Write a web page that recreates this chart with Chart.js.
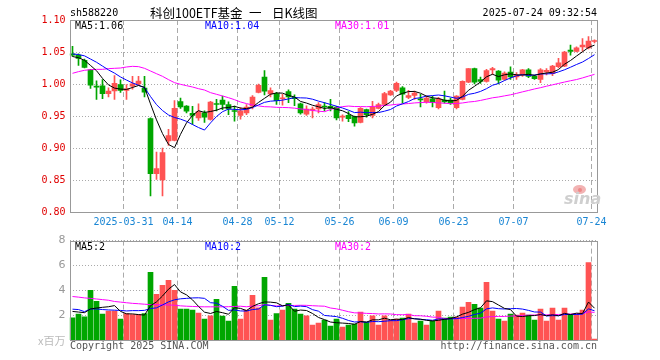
<!DOCTYPE html>
<html><head><meta charset="utf-8">
<script src="https://cdn.jsdelivr.net/npm/chart.js@4.4.1/dist/chart.umd.min.js"></script>
<style>
html,body{margin:0;padding:0;background:#fff;width:660px;height:360px;overflow:hidden;}
body{position:relative;}
.t{position:absolute;white-space:nowrap;font-family:"DejaVu Sans Mono",monospace;font-size:10px;line-height:12px;}
.cjk{font-family:'Noto Sans CJK SC';font-size:12.5px;line-height:16px;color:#000;}
canvas{position:absolute;left:0;}
#c1{top:0;}
#c2{top:230px;}
</style></head><body>
<canvas id="c1" width="660" height="232"></canvas>
<canvas id="c2" width="660" height="130"></canvas>
<div class="t" style="left:70px;top:7px;color:#000">sh588220</div>
<div class="t cjk" style="left:150px;top:5px;">科创100ETF基金</div>
<div class="t cjk" style="left:249px;top:5px;">一</div>
<div class="t cjk" style="left:272px;top:5px;">日K线图</div>
<div class="t" style="right:63px;top:7px;color:#000">2025-07-24 09:32:54</div>
<div class="t" style="left:75px;top:20px;color:#000">MA5:1.06</div>
<div class="t" style="left:205px;top:20px;color:#0000ff">MA10:1.04</div>
<div class="t" style="left:335px;top:20px;color:#ff00ff">MA30:1.01</div>
<div class="t" style="left:75px;top:241px;color:#000">MA5:2</div>
<div class="t" style="left:205px;top:241px;color:#0000ff">MA10:2</div>
<div class="t" style="left:335px;top:241px;color:#ff00ff">MA30:2</div>
<div class="t" style="left:38px;top:333px;color:#bbb;font-family:'Noto Sans CJK SC';font-size:11px;line-height:14px">x百万</div>
<div class="t" style="left:70px;top:340px;color:#555">Copyright 2025 SINA.COM</div>
<div class="t" style="right:63px;top:340px;color:#555">http://finance.sina.com.cn</div>
<div style="position:absolute;left:573px;top:185px;width:13px;height:9px;border-radius:50%;background:#f2b3b3;"></div>
<div style="position:absolute;left:578px;top:188px;width:4px;height:4px;border-radius:50%;background:#e88;"></div>
<div class="t" style="left:564px;top:190px;color:#cfcfcf;font-family:'DejaVu Sans';font-style:italic;font-weight:bold;font-size:16px;line-height:18px;">sina</div>
<script>
// ---- data ----
const dates = [
'2025-03-18','2025-03-19','2025-03-20','2025-03-21','2025-03-24','2025-03-25','2025-03-26','2025-03-27','2025-03-28','2025-03-31',
'2025-04-01','2025-04-02','2025-04-03','2025-04-07','2025-04-08','2025-04-09','2025-04-10','2025-04-11','2025-04-14','2025-04-15',
'2025-04-16','2025-04-17','2025-04-18','2025-04-21','2025-04-22','2025-04-23','2025-04-24','2025-04-25','2025-04-28','2025-04-29',
'2025-04-30','2025-05-06','2025-05-07','2025-05-08','2025-05-09','2025-05-12','2025-05-13','2025-05-14','2025-05-15','2025-05-16',
'2025-05-19','2025-05-20','2025-05-21','2025-05-22','2025-05-23','2025-05-26','2025-05-27','2025-05-28','2025-05-29','2025-05-30',
'2025-06-03','2025-06-04','2025-06-05','2025-06-06','2025-06-09','2025-06-10','2025-06-11','2025-06-12','2025-06-13','2025-06-16',
'2025-06-17','2025-06-18','2025-06-19','2025-06-20','2025-06-23','2025-06-24','2025-06-25','2025-06-26','2025-06-27','2025-06-30',
'2025-07-01','2025-07-02','2025-07-03','2025-07-04','2025-07-07','2025-07-08','2025-07-09','2025-07-10','2025-07-11','2025-07-14',
'2025-07-15','2025-07-16','2025-07-17','2025-07-18','2025-07-21','2025-07-22','2025-07-23','2025-07-24'];

const open = [
1.047,1.045,1.037,1.022,0.996,0.997,0.985,0.989,0.999,0.990,
0.9966,1.0003,0.9935,0.946,0.860,0.850,0.911,0.912,0.9727,0.9654,
0.954,0.947,0.955,0.9445,0.969,0.975,0.968,0.958,0.951,0.955,
0.9654,0.987,1.0107,0.9846,0.985,0.977,0.988,0.979,0.969,0.953,
0.959,0.961,0.965,0.965,0.964,0.948,0.951,0.949,0.940,0.960,
0.951,0.962,0.968,0.983,0.990,0.994,0.979,0.982,0.977,0.972,
0.977,0.963,0.975,0.975,0.963,0.976,1.003,1.024,1.007,1.004,
1.022,1.020,1.007,1.0185,1.011,1.014,1.022,1.012,1.007,1.019,
1.016,1.027,1.028,1.053,1.051,1.058,1.0565,1.0664];
const close = [
1.045,1.040,1.026,0.998,0.995,0.985,0.989,1.001,0.990,0.9925,
1.0003,1.0044,0.9872,0.860,0.868,0.893,0.9195,0.962,0.9643,0.9576,
0.951,0.957,0.948,0.9716,0.968,0.968,0.961,0.957,0.958,0.9638,
0.9794,0.998,0.9888,0.9898,0.974,0.978,0.980,0.977,0.955,0.961,
0.961,0.968,0.964,0.962,0.947,0.950,0.946,0.939,0.962,0.952,
0.964,0.968,0.985,0.989,1.001,0.984,0.982,0.986,0.975,0.978,
0.971,0.977,0.972,0.970,0.981,1.004,1.024,1.003,1.004,1.021,
1.024,1.006,1.017,1.011,1.014,1.022,1.012,1.0085,1.022,1.0215,
1.028,1.033,1.050,1.051,1.0565,1.061,1.067,1.068];
const high = [
1.059,1.047,1.039,1.023,1.005,1.007,0.994,1.013,1.0065,0.999,
1.012,1.012,1.012,0.947,0.8935,0.900,0.929,0.974,0.978,0.9664,
0.965,0.969,0.958,0.973,0.976,0.981,0.972,0.9654,0.963,0.968,
0.982,1.000,1.021,0.994,0.987,0.984,0.991,0.983,0.970,0.966,
0.964,0.971,0.971,0.976,0.965,0.952,0.957,0.950,0.963,0.961,
0.973,0.970,0.987,0.990,1.003,0.996,0.990,0.989,0.984,0.981,
0.981,0.979,0.989,0.978,0.982,1.005,1.024,1.025,1.011,1.023,
1.026,1.021,1.019,1.027,1.018,1.023,1.024,1.014,1.024,1.024,
1.029,1.040,1.051,1.061,1.058,1.071,1.074,1.069];
const low = [
1.043,1.029,1.025,0.993,0.976,0.977,0.980,0.976,0.987,0.976,
0.992,0.998,0.980,0.825,0.851,0.825,0.904,0.911,0.962,0.955,
0.937,0.943,0.940,0.9435,0.958,0.960,0.952,0.942,0.945,0.952,
0.961,0.986,0.983,0.980,0.968,0.967,0.971,0.966,0.953,0.951,
0.947,0.955,0.958,0.958,0.944,0.942,0.941,0.934,0.939,0.948,
0.947,0.961,0.967,0.982,0.988,0.970,0.977,0.976,0.964,0.970,
0.964,0.961,0.970,0.968,0.961,0.975,1.002,1.000,1.001,1.003,
1.015,1.000,1.006,1.007,1.007,1.012,1.010,1.007,1.002,1.014,
1.013,1.025,1.027,1.045,1.050,1.051,1.055,1.064];
// volume, millions
const volume = [
1.79,2.08,1.87,4.0,3.12,2.08,2.32,2.32,1.68,2.13,
2.05,2.05,2.13,5.44,3.68,4.4,4.8,4.0,2.48,2.48,
2.4,2.16,1.68,1.95,3.28,1.92,1.52,4.32,1.68,2.4,
3.6,2.59,5.04,1.6,2.13,2.4,2.96,2.48,2.08,1.95,
1.2,1.36,1.6,1.12,1.68,1.04,1.2,1.28,2.24,1.44,
1.95,1.2,1.95,1.6,1.68,1.76,2.08,1.36,1.52,1.2,
1.52,2.32,1.76,1.84,1.84,2.64,3.04,2.88,2.56,4.64,
2.32,1.68,1.52,2.08,2.0,2.16,2.0,1.6,2.48,1.52,
2.56,1.6,2.56,2.0,2.08,2.4,6.24,0.08];
// moving-average values before a full window exists
const priceMa5Head  = [1.043,1.041,1.037,1.029];
const priceMa10Head = [1.047,1.046,1.044,1.039,1.034,1.028,1.022,1.017,1.011];
const priceMa30Head = [1.0167,1.0193,1.0214,1.0224,1.0229,1.0229,1.024,1.0245,1.025,1.0266,1.0276,1.0271,1.0245,1.0203,1.0161,1.012,1.0068,1.0021,0.9995,0.9974,0.9953,0.9927,0.9906,0.9865,0.9839,0.9813,0.9786,0.9755,0.9719];
const volMa5Head  = [2.3,2.25,2.2,2.5];
const volMa10Head = [2.48,2.45,2.28,2.5,2.5,2.45,2.42,2.4,2.38];
const volMa30Head = [3.5,3.45,3.39,3.35,3.3,3.25,3.2,3.1,3.05,3.0,2.95,2.92,2.88,2.85,2.84,2.83,2.82,2.8,2.75,2.72,2.7,2.68,2.67,2.67,2.67,2.67,2.68,2.7,2.72];
// axis ticks
const tickDates  = ['2025-03-31','2025-04-14','2025-04-28','2025-05-12','2025-05-26','2025-06-09','2025-06-23','2025-07-07','2025-07-24'];
const tickLabels = ['2025-03-31','04-14','04-28','05-12','05-26','06-09','06-23','07-07','07-24'];
const priceTicks = [0.80,0.85,0.90,0.95,1.00,1.05,1.10];
const volTicks   = [2,4,6,8];

// ---- build ----
const UP='#ff5353', DOWN='#00a600', GRID='#aaaaaa', FRAME='#999999';
function movingAvg(vals,n,head){const out=head.slice();for(let i=head.length;i<vals.length;i++){let s=0;for(let k=i-n+1;k<=i;k++)s+=vals[k];out.push(s/n);}return out;}
const colors = close.map((c,i)=> c>=open[i]?UP:DOWN);
const wicks = low.map((l,i)=>[l,high[i]]);
const bodies = open.map((o,i)=>[Math.min(o,close[i]),Math.max(o,close[i])]);
const labelAt = {}; tickDates.forEach((d,k)=>{labelAt[dates.indexOf(d)]=tickLabels[k];});
const gridIdx = new Set(Object.keys(labelAt).map(Number));
const mono = {family:'DejaVu Sans Mono',size:10};

const frame={id:'frame',afterDatasetsDraw(chart){const {ctx,chartArea:a}=chart;ctx.save();ctx.strokeStyle=FRAME;ctx.lineWidth=1;
 const l=Math.round(a.left)+0.5,r=Math.floor(a.right)+0.5,t=Math.round(a.top)+0.5,b=Math.round(a.bottom)+0.5;
 ctx.strokeRect(l,t,r-l,b-t);ctx.restore();}};

function line(data,color){return {type:'line',data,borderColor:color,borderWidth:1,pointRadius:0,tension:0,order:0};}
function xScale(showLabels){return {
  grid:{offset:true,drawTicks:false,lineWidth:1,color:c=>gridIdx.has(c.index)?GRID:'rgba(0,0,0,0)'},
  border:{display:false,dash:[5,3]},
  ticks:{display:showLabels,autoSkip:false,maxRotation:0,minRotation:0,color:'#1a86d4',font:mono,padding:4,labelOffset:-3,
         callback:(v,i)=>labelAt[i]||''},
  afterFit(s){s.height=20;}
};}
const common={responsive:false,animation:false,events:[],plugins:{legend:{display:false},tooltip:{enabled:false}}};

Chart.defaults.font.family='DejaVu Sans Mono';
new Chart(document.getElementById('c1'),{
 type:'bar',
 data:{labels:dates,datasets:[
  line(movingAvg(close,5,priceMa5Head),'#000000'),
  line(movingAvg(close,10,priceMa10Head),'#0000ff'),
  line(movingAvg(close,30,priceMa30Head),'#ff00ff'),
  {data:wicks,backgroundColor:colors,barThickness:1,grouped:false,minBarLength:1,order:2},
  {data:bodies,backgroundColor:colors,barThickness:5,grouped:false,minBarLength:1,order:1}
 ]},
 options:{...common,layout:{padding:{left:0,right:62.5,top:20,bottom:0}},
  scales:{x:xScale(true),
   y:{min:priceTicks[0],max:priceTicks[priceTicks.length-1],
      afterBuildTicks(s){s.ticks=priceTicks.map(v=>({value:v}));},
      grid:{color:GRID,drawTicks:false},border:{display:false,dash:[1,2]},
      ticks:{color:'#e00000',font:mono,padding:4,callback:v=>Number(v).toFixed(2)},
      afterFit(s){s.width=69.5;}}}},
 plugins:[frame]
});
new Chart(document.getElementById('c2'),{
 type:'bar',
 data:{labels:dates,datasets:[
  line(movingAvg(volume,5,volMa5Head),'#000000'),
  line(movingAvg(volume,10,volMa10Head),'#0000ff'),
  line(movingAvg(volume,30,volMa30Head),'#ff00ff'),
  {data:volume,backgroundColor:colors,barThickness:5,order:1}
 ]},
 options:{...common,layout:{padding:{left:0,right:62.5,top:10,bottom:0}},
  scales:{x:xScale(false),
   y:{min:0,max:volTicks[volTicks.length-1],
      afterBuildTicks(s){s.ticks=volTicks.map(v=>({value:v}));},
      grid:{color:GRID,drawTicks:false},border:{display:false,dash:[1,2]},
      ticks:{color:'#999999',font:{family:'DejaVu Sans',size:11},padding:4,callback:v=>String(v)},
      afterFit(s){s.width=69.5;}}}},
 plugins:[frame]
});
</script>
</body></html>
